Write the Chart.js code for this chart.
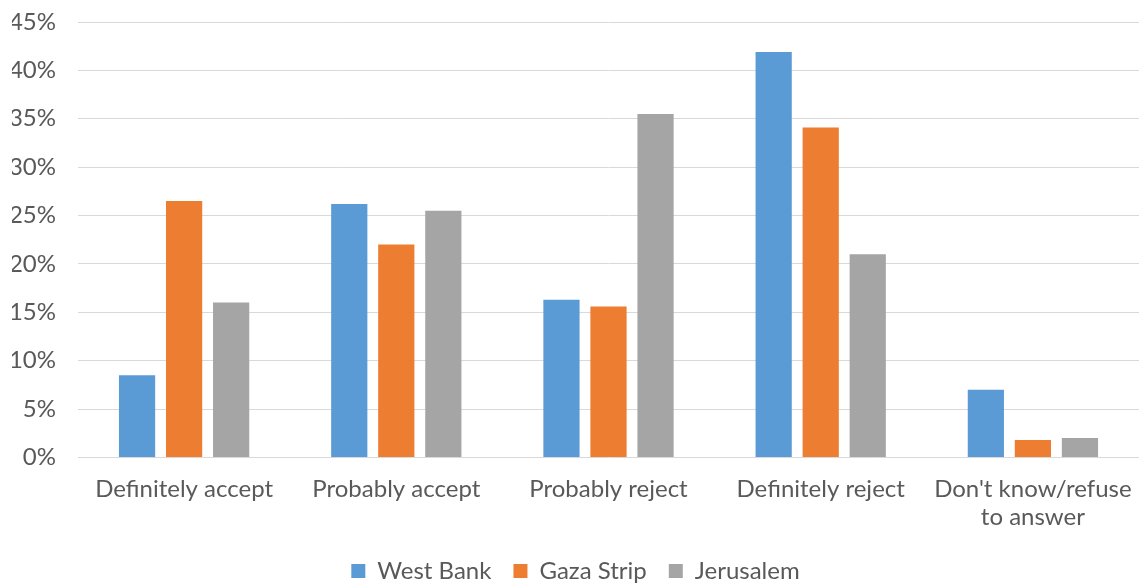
<!DOCTYPE html>
<html>
<head>
<meta charset="utf-8">
<script src="https://cdn.jsdelivr.net/npm/chart.js@4"></script>
<style>
  html, body { margin: 0; padding: 0; background: #fff; }
  #wrap { width: 1139px; height: 583px; }
</style>
</head>
<body>
<div id="wrap"><canvas id="chart" width="1139" height="583"></canvas></div>
<script>
// data (percent)
const categories = ['Definitely accept', 'Probably accept', 'Probably reject', 'Definitely reject', ["Don't know/refuse", 'to answer']];
const westBank = [8.5, 26.2, 16.3, 41.9, 7.0];
const gazaStrip = [26.5, 22.0, 15.6, 34.1, 1.8];
const jerusalem = [16.0, 25.5, 35.5, 21.0, 2.0];

const font = 'Lato, "Open Sans", sans-serif';
const textColor = '#595959';

// pull the legend box down a bit so it sits near the bottom edge
const legendShift = {
    id: 'legendShift',
    beforeLayout(chart) {
        const lg = chart.legend;
        if (!lg || lg._shifted) return;
        const orig = lg.fit;
        lg.fit = function () { orig.call(this); this.height -= 10; };
        lg._shifted = true;
    }
};

const ctx = document.getElementById('chart').getContext('2d');
new Chart(ctx, {
    type: 'bar',
    data: {
        labels: categories,
        datasets: [
            { label: 'West Bank', data: westBank, backgroundColor: '#5B9BD5' },
            { label: 'Gaza Strip', data: gazaStrip, backgroundColor: '#ED7D31' },
            { label: 'Jerusalem', data: jerusalem, backgroundColor: '#A5A5A5' }
        ]
    },
    plugins: [legendShift],
    options: {
        responsive: false,
        animation: false,
        layout: { padding: { top: 22, right: 0, left: 12, bottom: 0 } },
        datasets: {
            bar: { categoryPercentage: 0.665, barPercentage: 0.77 }
        },
        scales: {
            x: {
                grid: { display: false },
                border: { display: false },
                ticks: {
                    color: textColor,
                    font: { family: font, size: 24 },
                    padding: 9,
                    maxRotation: 0,
                    autoSkip: false
                },
                afterFit: scale => {
                    scale.height -= 4;
                    scale.paddingLeft = 0;
                    scale.paddingRight = 0;
                }
            },
            y: {
                min: 0,
                max: 45,
                grid: { color: '#d9d9d9', lineWidth: 1, drawTicks: false },
                border: { display: false },
                ticks: {
                    stepSize: 5,
                    color: textColor,
                    font: { family: font, size: 24 },
                    padding: 22,
                    callback: v => v + '%'
                },
                afterFit: scale => {
                    scale.width = 66;
                    scale.paddingTop = 0;
                    scale.paddingBottom = 0;
                }
            }
        },
        plugins: {
            legend: {
                position: 'bottom',
                labels: {
                    color: textColor,
                    font: { family: font, size: 24 },
                    boxWidth: 14,
                    boxHeight: 14,
                    padding: 22
                }
            },
            tooltip: { enabled: false }
        }
    }
});
</script>
</body>
</html>
